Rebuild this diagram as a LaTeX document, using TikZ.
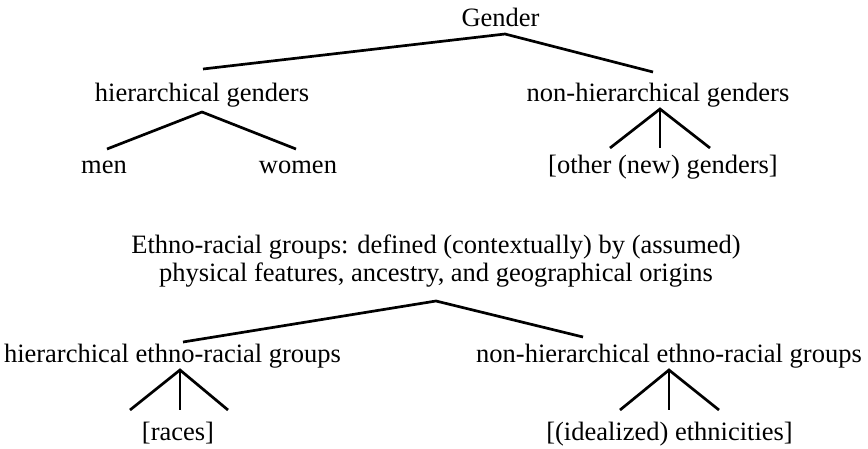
\documentclass[tikz,border=0pt]{standalone}
\usepackage{fontspec}
\setmainfont{Liberation Serif}
\begin{document}
\begin{tikzpicture}[x=1pt,y=-1pt,
  lbl/.style={inner sep=0pt, outer sep=0pt, anchor=base, font=\fontsize{26.5}{28}\selectfont},
  link/.style={line width=2.7pt, line join=miter}]
\useasboundingbox (0,0) rectangle (868,448);
% Gender tree
\node[lbl] (gender) at (500.5,26) {Gender};
\node[lbl] (hg) at (202,101) {hierarchical genders};
\node[lbl] (nhg) at (658,101) {non-hierarchical genders};
\node[lbl] (men) at (104,173) {men};
\node[lbl] (women) at (298,173) {women};
\node[lbl] (other) at (663,173) {[other (new) genders]};
\coordinate (gA) at (505,34);
\coordinate (hgT) at (203,69);
\coordinate (nhgT) at (653,72);
\coordinate (hgA) at (202,112);
\coordinate (menT) at (107,149);
\coordinate (womenT) at (296,149);
\coordinate (nhgA) at (660,109);
\coordinate (otherL) at (610,148);
\coordinate (otherM) at (660,148);
\coordinate (otherR) at (710,148);
\draw[link] (hgT) -- (gA) -- (nhgT);
\draw[link] (menT) -- (hgA) -- (womenT);
\draw[link] (otherL) -- (nhgA) -- (otherR);
\draw[link] (nhgA) -- (otherM);
% Ethno-racial tree
\node[lbl] (eth1) at (436,253) {Ethno-racial groups: defined (contextually) by (assumed)};
\node[lbl] (eth2) at (436,281) {physical features, ancestry, and geographical origins};
\node[lbl] (her) at (172.5,362) {hierarchical ethno-racial groups};
\node[lbl] (nher) at (669,362) {non-hierarchical ethno-racial groups};
\node[lbl] (races) at (178,440) {[races]};
\node[lbl] (ideal) at (669.5,440) {[(idealized) ethnicities]};
\coordinate (eA) at (436,301);
\coordinate (herT) at (183,342);
\coordinate (nherT) at (583,337);
\coordinate (herA) at (180,370);
\coordinate (racesL) at (130,410);
\coordinate (racesM) at (180,410);
\coordinate (racesR) at (228,410);
\coordinate (nherA) at (669,370);
\coordinate (idealL) at (620,410);
\coordinate (idealM) at (669,410);
\coordinate (idealR) at (719,410);
\draw[link] (herT) -- (eA) -- (nherT);
\draw[link] (racesL) -- (herA) -- (racesR);
\draw[link] (herA) -- (racesM);
\draw[link] (idealL) -- (nherA) -- (idealR);
\draw[link] (nherA) -- (idealM);
\end{tikzpicture}
\end{document}
